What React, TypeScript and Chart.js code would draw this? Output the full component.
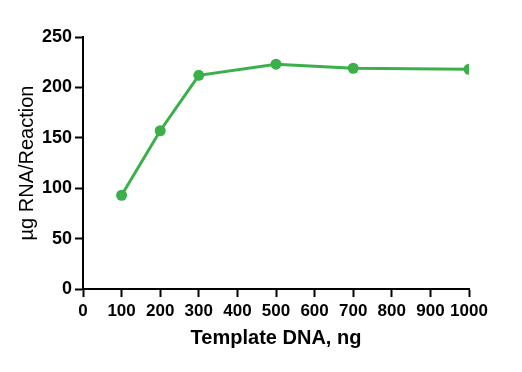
import React, { useEffect, useRef } from "react";
import { Chart, registerables } from "chart.js";

Chart.register(...registerables);

const templateDNA = [100, 200, 300, 500, 700, 1000];
const rnaYield = [93, 157, 212, 223, 219, 218];
const xTitle = "Template DNA, ng";
const yTitle = "µg RNA/Reaction";

const FONT = "'Liberation Sans', Arial, sans-serif";

export default function App() {
  const ref = useRef<HTMLCanvasElement | null>(null);

  useEffect(() => {
    if (!ref.current) return;
    const chart = new Chart(ref.current, {
      type: "line",
      data: {
        datasets: [
          {
            data: templateDNA.map((x, i) => ({ x, y: rnaYield[i] })),
            borderColor: "#3bb04a",
            backgroundColor: "#3bb04a",
            borderWidth: 3,
            pointRadius: 5.5,
            pointBorderWidth: 0,
            tension: 0,
          },
        ],
      },
      options: {
        animation: false,
        responsive: true,
        maintainAspectRatio: false,
        layout: { padding: { top: 37, right: 53, bottom: 22, left: 0 } },
        plugins: { legend: { display: false }, tooltip: { enabled: false } },
        scales: {
          x: {
            type: "linear",
            min: 0,
            max: 1000,
            ticks: {
              stepSize: 100,
              color: "#000",
              padding: 4,
              maxRotation: 0,
              autoSkip: false,
              callback: (v: any) => String(v),
              font: { family: FONT, size: 17, weight: "bold" },
            },
            grid: {
              drawOnChartArea: false,
              drawTicks: true,
              tickLength: 8,
              tickColor: "#000",
              tickWidth: 2,
            },
            border: { color: "#000", width: 2 },
            title: {
              display: true,
              text: xTitle,
              color: "#000",
              padding: { top: 4, bottom: 0 },
              font: { family: FONT, size: 20, weight: "bold" },
            },
            afterFit: (s: any) => {
              s.height = 61;
            },
          },
          y: {
            min: 0,
            max: 250,
            ticks: {
              stepSize: 50,
              color: "#000",
              padding: 3,
              callback: (v: any) => String(v),
              font: { family: FONT, size: 18, weight: "bold" },
            },
            grid: {
              drawOnChartArea: false,
              drawTicks: true,
              tickLength: 8,
              tickColor: "#000",
              tickWidth: 2,
            },
            border: { color: "#000", width: 2 },
            title: {
              display: true,
              text: yTitle,
              color: "#000",
              padding: { top: 15, bottom: 0 },
              font: { family: FONT, size: 20, weight: "normal" },
            },
            afterFit: (s: any) => {
              s.width = 83;
            },
          },
        },
      },
    });
    return () => chart.destroy();
  }, []);

  return (
    <div
      style={{
        position: "absolute",
        left: 0,
        top: 0,
        width: 522,
        height: 372,
        background: "#fff",
      }}
    >
      <canvas ref={ref} />
    </div>
  );
}
